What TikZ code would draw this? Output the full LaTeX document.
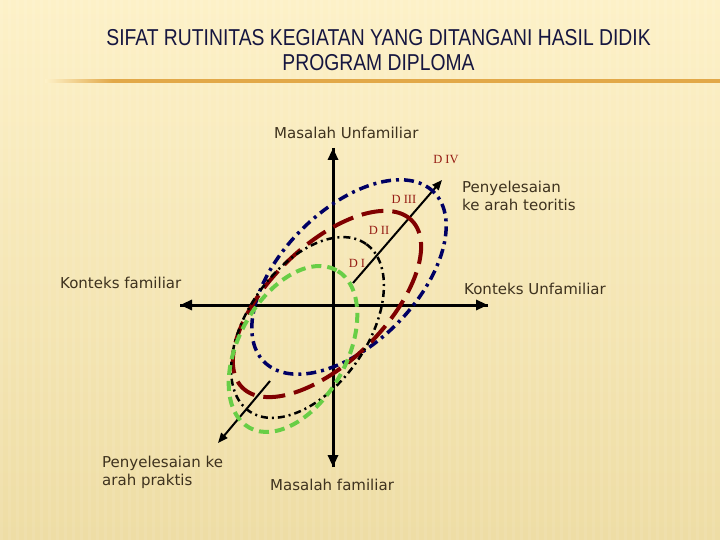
\documentclass[tikz,border=0pt]{standalone}
\usepackage{fontspec}
\setmainfont{DejaVu Sans}
\newfontfamily\judulfont[FakeStretch=0.84]{Liberation Sans}
\newfontfamily\dfont{Liberation Serif}
\usepackage{xcolor}
\usetikzlibrary{arrows.meta}
\definecolor{KremAtas}{RGB}{253, 241, 200}
\definecolor{KremBawah}{RGB}{238, 221, 165}
\definecolor{Oranye}{RGB}{226, 168, 72}
\definecolor{BiruJudul}{RGB}{22, 22, 64}
\definecolor{Teks}{RGB}{62, 50, 30}
\definecolor{MerahD}{RGB}{150, 28, 20}
\definecolor{HijauMuda}{RGB}{104, 206, 70}
\definecolor{MerahTua}{RGB}{128, 0, 0}
\definecolor{BiruTua}{RGB}{0, 0, 100}
\pgfdeclarehorizontalshading{garisjudul}{100bp}{color(0bp)=(KremAtas); color(25bp)=(KremAtas); color(30bp)=(Oranye); color(100bp)=(Oranye)}

\tikzset{
  judul/.style={font=\judulfont\fontsize{23}{26}\selectfont, text=BiruJudul, inner sep=0pt},
  teks/.style={font=\fontsize{15}{18}\selectfont, text=Teks, inner sep=0pt, align=left},
  dlabel/.style={font=\dfont\fontsize{12.5}{14}\selectfont, text=MerahD, inner sep=0pt},
  sumbu/.style={line width=3pt, -{Triangle[length=12pt,width=10pt]}},
  arah/.style={line width=2pt, -{Triangle[length=10pt,width=8pt]}},
}

\begin{document}
\begin{tikzpicture}[x=1pt,y=-1pt]
            %latar
            \useasboundingbox (0,0) rectangle (720,540);
            \shade[top color=KremAtas, bottom color=KremBawah] (0,0) rectangle (720,540);
            \foreach \i in {0,8,...,720}
              \fill[white, opacity=0.08] (\i,0) rectangle (\i+3,540);
            \shade[shading=garisjudul] (45,80) rectangle (720,82.5);
            %judul
            \node[judul] (judul1) at (378.5,38) {SIFAT RUTINITAS KEGIATAN YANG DITANGANI HASIL DIDIK};
            \node[judul] (judul2) at (378.5,63) {PROGRAM DIPLOMA};
            %sumbu
            \coordinate (atas) at (333,148);
            \coordinate (bawah) at (333,467);
            \coordinate (kiri) at (180,305);
            \coordinate (kanan) at (488,305);
            \coordinate (teoriA) at (353,283);
            \coordinate (teoriB) at (442,180);
            \coordinate (praktisA) at (270,381);
            \coordinate (praktisB) at (218,443);
            \draw[sumbu] (bawah) -- (atas);
            \draw[sumbu] (atas) -- (bawah);
            \draw[sumbu] (kanan) -- (kiri);
            \draw[sumbu] (kiri) -- (kanan);
            \draw[arah] (teoriA) -- (teoriB);
            \draw[arah] (praktisA) -- (praktisB);
            %elips D IV, D III, D II, D I
            \draw[BiruTua, line width=3.5pt, dash pattern=on 10pt off 5pt on 3pt off 5pt, rotate around={45:(349,277)}]
              (349,277) ellipse [x radius=120pt, y radius=67pt];
            \draw[MerahTua, line width=4pt, dash pattern=on 22pt off 9pt, rotate around={44.5:(327,304)}]
              (327,304) ellipse [x radius=119pt, y radius=58pt];
            \draw[black, line width=2.5pt, dash pattern=on 7pt off 4pt on 2pt off 4pt, rotate around={55:(307.5,327.5)}]
              (307.5,327.5) ellipse [x radius=102pt, y radius=60pt];
            \draw[HijauMuda, line width=4pt, dash pattern=on 10pt off 6pt, rotate around={61:(293,349)}]
              (293,349) ellipse [x radius=90pt, y radius=54pt];
            %label
            \node[dlabel] (d4) at (446,160) {D IV};
            \node[dlabel] (d3) at (404,199) {D III};
            \node[dlabel] (d2) at (379,230) {D II};
            \node[dlabel] (d1) at (357,263) {D I};
            \node[teks, anchor=west] (mu) at (274,133) {Masalah Unfamiliar};
            \node[teks, anchor=west] (mf) at (270,485) {Masalah familiar};
            \node[teks, anchor=west] (kf) at (60,283) {Konteks familiar};
            \node[teks, anchor=west] (ku) at (464,289) {Konteks Unfamiliar};
            \node[teks, anchor=west] (pt) at (462,196) {Penyelesaian\\ke arah teoritis};
            \node[teks, anchor=west] (pp) at (102,472) {Penyelesaian ke\\arah praktis};
        \end{tikzpicture}
\end{document}
